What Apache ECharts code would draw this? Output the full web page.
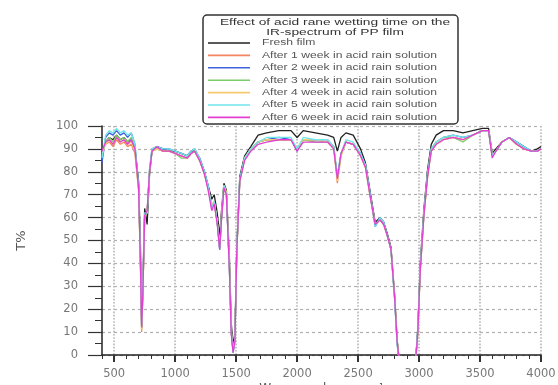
<!DOCTYPE html>
<html>
<head>
<meta charset="utf-8">
<script src="https://cdn.jsdelivr.net/npm/echarts@6/dist/echarts.min.js"></script>
<style>
  html, body { margin: 0; padding: 0; background: #fff; }
  #chart { width: 558px; height: 385px; }
</style>
</head>
<body>
<div id="chart"></div>
<script>
// Wave numbers (cm-1) shared by every spectrum
const wavenumbers = [400,430,460,490,520,550,580,610,640,670,
  700,715,725,735,750,770,790,810,850,900,
  950,1000,1050,1100,1130,1160,1200,1240,1270,1300,
  1320,1345,1365,1380,1400,1420,1445,1460,1475,1490,
  1505,1530,1570,1620,1680,1750,1850,1950,2000,2050,
  2150,2250,2300,2330,2360,2400,2460,2520,2560,2600,
  2640,2680,2710,2740,2770,2800,2820,2840,2870,2900,
  2940,2970,2990,3010,3040,3070,3100,3140,3200,3280,
  3360,3440,3520,3570,3600,3630,3680,3740,3800,3860,
  3920,3970,4000];

// Transmittance T% for each exposure time
const freshFilm = [88,93,95,94,96,94,95,93,94,90,
  76,48,16,32,64,57,79,89,91,90,
  89,89,88,87,89,89,86,80,74,68,
  70,62,52,63,75,72,42,14,4,10,
  46,78,87,91,96,97,98,98,95,98,
  97,96,95,89,95,97,96,90,84,71,
  58,60,58,53,47,26,7,-4,-4,-4,
  -4,-4,12,40,64,81,92,96,98,98,
  97,98,99,99,88,90,93,95,93,91,
  89,90,91];

const week1 = [89,92,93,91,94,92,93,91,92,88,
  72,40,10,26,60,63,80,89,90,89,
  89,88,87,86,88,89,85,79,73,65,
  67,58,47,60,74,71,38,10,2,7,
  45,76,86,90,93,94,94,94,90,94,
  94,94,91,75,87,93,92,87,82,69,
  57,59,57,52,46,25,6,-4,-4,-4,
  -4,-4,10,37,61,78,89,92,94,95,
  94,96,98,98,87,89,93,95,92,90,
  89,89,90];

const week2 = [84,95,97,96,98,96,97,95,97,92,
  74,42,12,28,62,62,81,90,91,90,
  90,89,88,87,89,90,86,80,74,64,
  67,58,46,60,74,70,37,10,1,6,
  46,77,86,90,93,94,95,94,89,94,
  94,93,91,78,88,93,92,88,83,70,
  56,60,58,52,46,24,5,-4,-4,-4,
  -4,-4,11,38,62,79,90,93,95,96,
  95,96,98,98,87,89,93,95,93,91,
  89,89,90];

const week3 = [87,93,95,93,96,94,95,93,95,90,
  73,41,11,27,61,62,80,89,90,89,
  89,88,86,86,88,89,85,79,73,65,
  67,58,47,60,74,71,38,10,2,7,
  45,76,86,90,93,94,94,94,90,94,
  93,93,91,77,88,93,92,87,83,69,
  57,59,57,52,46,25,6,-4,-4,-4,
  -4,-4,10,38,62,79,90,93,95,95,
  93,96,98,98,87,89,93,95,92,90,
  89,89,90];

const week4 = [88,92,94,92,95,93,94,92,93,89,
  72,40,11,27,61,63,80,89,90,89,
  89,88,87,86,88,89,85,79,73,65,
  67,58,47,60,74,71,38,10,2,7,
  45,76,86,90,93,94,94,94,90,94,
  94,93,90,76,87,93,92,87,82,69,
  57,59,57,52,46,25,6,-4,-4,-4,
  -4,-4,10,37,61,78,89,92,94,95,
  94,96,98,98,87,89,93,95,92,90,
  89,89,90];

const week5 = [86,96,98,97,99,97,98,96,97,92,
  74,43,13,29,62,62,81,90,91,90,
  90,89,88,87,89,90,86,80,74,64,
  67,58,46,60,74,70,37,10,1,6,
  46,77,86,90,93,95,95,95,90,95,
  94,94,91,78,88,94,93,88,83,70,
  56,60,58,52,46,24,5,-4,-4,-4,
  -4,-4,11,38,62,79,90,93,95,96,
  95,96,98,98,87,89,93,95,93,91,
  89,89,90];

const week6 = [89,93,94,92,95,93,94,92,94,90,
  73,41,12,27,61,63,80,89,91,89,
  89,88,87,86,88,89,85,79,72,63,
  66,57,46,59,73,70,37,9,1,6,
  45,76,85,89,92,93,94,94,89,93,
  93,93,90,77,88,93,92,87,82,69,
  57,59,57,52,46,25,6,-4,-4,-4,
  -4,-4,10,37,61,78,89,92,94,95,
  94,96,98,98,86,89,93,95,92,90,
  89,89,90];

const seriesNames = [
  'Fresh film',
  'After 1 week in acid rain solution',
  'After 2 week in acid rain solution',
  'After 3 week in acid rain solution',
  'After 4 week in acid rain solution',
  'After 5 week in acid rain solution',
  'After 6 week in acid rain solution'
];
const seriesValues = [freshFilm, week1, week2, week3, week4, week5, week6];
const xTickLabels = [500, 1000, 1500, 2000, 2500, 3000, 3500, 4000];
const legendTitle = ['Effect of acid rane wetting time on the', 'IR-spectrum of PP film'];

const palette = ['#222222', '#f4845f', '#3f62dc', '#7ccb6a', '#f7c96f', '#6fe6ec', '#e33fd2'];
const FONT = '"Liberation Sans", Arial, sans-serif';
const AXIS_FONT = '"DejaVu Sans", sans-serif';

const chart = echarts.init(document.getElementById('chart'), null, { renderer: 'canvas' });

const series = seriesValues.map((vals, k) => ({
  name: seriesNames[k],
  type: 'line',
  xAxisIndex: 0,
  yAxisIndex: 0,
  data: wavenumbers.map((w, i) => [w, vals[i]]),
  showSymbol: false,
  symbol: 'none',
  clip: true,
  lineStyle: { color: palette[k], width: 1.3 },
  itemStyle: { color: palette[k] },
  emphasis: { disabled: true },
  animation: false,
  z: 2 + k
}));

// Legend box: frame, two-line heading, and one sample line + label per spectrum
const legendBox = { x: 203, y: 15, w: 255, h: 109 };
const legendGraphics = [
  {
    type: 'rect',
    z: 20,
    shape: { x: legendBox.x, y: legendBox.y, width: legendBox.w, height: legendBox.h, r: 4 },
    style: { fill: '#fff', stroke: '#333', lineWidth: 1.5 }
  }
];
legendTitle.forEach((line, i) => {
  legendGraphics.push({
    type: 'text',
    z: 21,
    x: 335,
    y: 23 + i * 9.5,
    scaleX: 1.62,
    style: { text: line, textAlign: 'center', textVerticalAlign: 'middle', fontSize: 8.5, fill: '#333', fontFamily: FONT }
  });
});
seriesNames.forEach((name, k) => {
  const yy = 43 + k * 12.4;
  legendGraphics.push({
    type: 'line',
    z: 21,
    shape: { x1: 208, y1: yy, x2: 250, y2: yy },
    style: { stroke: palette[k], lineWidth: 1.6 }
  });
  legendGraphics.push({
    type: 'text',
    z: 21,
    x: 262,
    y: yy,
    scaleX: 1.43,
    style: { text: name, textVerticalAlign: 'middle', fontSize: 8.5, fill: '#555', fontFamily: FONT }
  });
});

chart.setOption({
  animation: false,
  textStyle: { fontFamily: FONT },
  grid: { left: 102, right: 17, top: 126, bottom: 30, containLabel: false, outerBoundsMode: 'none' },
  xAxis: [
    {
      type: 'value',
      min: 400,
      max: 4000,
      interval: 100,
      position: 'bottom',
      axisLine: { show: true, lineStyle: { color: '#222', width: 1.5 } },
      axisTick: { show: true, length: 4, lineStyle: { color: '#333', width: 1 } },
      axisLabel: { show: false },
      splitLine: { show: false },
      name: 'Wave number , cm\u207B\u00B9',
      nameLocation: 'middle',
      nameGap: 28,
      nameTextStyle: { fontSize: 12, color: '#555', fontFamily: AXIS_FONT, verticalAlign: 'top' }
    },
    {
      type: 'value',
      min: 400,
      max: 4000,
      position: 'bottom',
      axisLine: { show: false },
      axisTick: { show: true, length: 7, customValues: xTickLabels, lineStyle: { color: '#333', width: 2 } },
      axisLabel: {
        show: true, customValues: xTickLabels, margin: 13, fontSize: 11.5, color: '#777', fontFamily: AXIS_FONT,
        formatter: (v) => String(v)
      },
      splitLine: { show: true, customValues: xTickLabels, lineStyle: { color: '#b5b5b5', type: 'dotted', width: 1.6 } }
    }
  ],
  yAxis: {
    type: 'value',
    min: 0,
    max: 100,
    interval: 10,
    axisLine: { show: true, lineStyle: { color: '#222', width: 1.5 } },
    axisTick: { show: true, length: 14, lineStyle: { color: '#333', width: 1.2 } },
    minorTick: { show: true, splitNumber: 2, length: 7, lineStyle: { color: '#333', width: 1 } },
    axisLabel: { margin: 24, fontSize: 11.5, color: '#777', fontFamily: AXIS_FONT, formatter: (v) => String(v) },
    splitLine: { show: true, lineStyle: { color: '#b0b0b0', type: [3, 3], width: 1.2 } },
    name: 'T%',
    nameLocation: 'middle',
    nameGap: 74,
    nameTextStyle: { fontSize: 13, color: '#555', fontFamily: AXIS_FONT }
  },
  graphic: legendGraphics,
  series: series
});
</script>
</body>
</html>
